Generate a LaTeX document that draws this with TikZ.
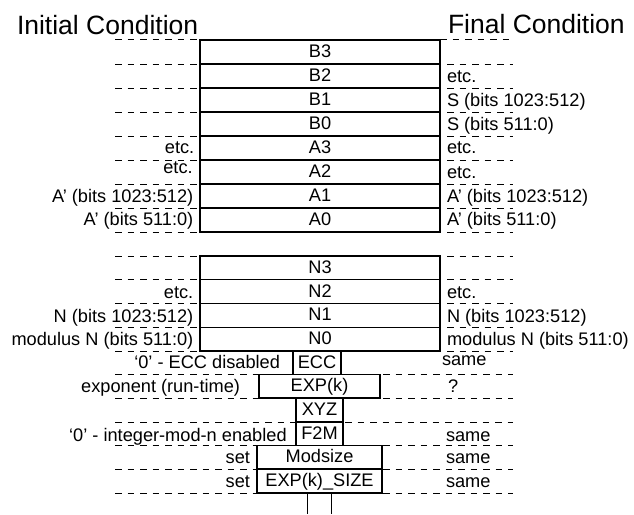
\documentclass[tikz,border=0pt]{standalone}
\usepackage{fontspec}
\setmainfont{Liberation Sans}
\begin{document}
\begin{tikzpicture}[x=1pt,y=-1pt,
  lbl/.style={font=\fontsize{18.2}{20}\selectfont, inner sep=0pt, outer sep=0pt},
  ttl/.style={font=\fontsize{26.5}{30}\selectfont, inner sep=0pt, outer sep=0pt},
  reg/.style={draw, line width=1.1pt, inner sep=0pt, outer sep=0pt,
    font=\fontsize{18.2}{20}\selectfont, text height=12, text depth=1, anchor=north west},
  guide/.style={line width=0.9pt, dash pattern=on 6.5pt off 6pt},
  wire/.style={line width=1.1pt}]
\useasboundingbox (0,0) rectangle (634,514);

% reference x positions for the guide lines
\coordinate (L) at (115,0);
\coordinate (R) at (513,0);
\coordinate (RS) at (447,0);
\coordinate (R2) at (383,0);

% titles
\node[ttl, anchor=base west] (tinit) at (17,34) {Initial Condition};
\node[ttl, anchor=base west] (tfinal) at (448,33) {Final Condition};

% main register rows
\foreach \n [count=\i from 0] in {B3,B2,B1,B0,A3,A2,A1,A0} {
  \node[reg, minimum width=240, minimum height=24] (\n) at (200,40+24*\i) {\n};
}
\foreach \n [count=\i from 0] in {N3,N2,N1,N0} {
  \node[reg, minimum width=240, minimum height=23.75] (\n) at (200,256+23.75*\i) {\n};
}

% lower registers
\node[reg, minimum width=48, minimum height=23.5] (ECC) at (293,351) {ECC};
\node[reg, minimum width=121, minimum height=23.5] (EXP) at (259,374.5) {EXP(k)};
\node[reg, minimum width=47, minimum height=24] (XYZ) at (296,398) {XYZ};
\node[reg, minimum width=47, minimum height=23.5] (F2M) at (296,422) {F2M};
\node[reg, minimum width=125, minimum height=23.5] (MOD) at (257,445.5) {Modsize};
\node[reg, minimum width=125, minimum height=24] (ES) at (257,469) {EXP(k)\_SIZE};

% bottom lines
\coordinate (b1) at (307.7,514);
\coordinate (b2) at (331.7,514);
\draw[wire] (b1 |- ES.south) -- (b1);
\draw[wire] (b2 |- ES.south) -- (b2);

% guide lines
\draw[guide] (115,39.2) -- (513,39.2);
\foreach \n in {B2,B1,B0,A3,A2,A1,A0,N3,N2,N1,N0} {
  \draw[guide] (L |- \n.north west) -- (\n.north west);
  \draw[guide] (RS |- \n.north east) -- (R |- \n.north east);
}
\foreach \n in {A0,N0} {
  \draw[guide] (L |- \n.south west) -- (\n.south west);
  \draw[guide] (RS |- \n.south east) -- (R |- \n.south east);
}
\draw[guide] (L |- EXP.north west) -- (EXP.north west);
\draw[guide] (R2 |- EXP.north east) -- (R |- EXP.north east);
\draw[guide] (L |- EXP.south west) -- (EXP.south west);
\draw[guide] (R2 |- EXP.south east) -- (R |- EXP.south east);
\draw[guide] (L |- F2M.north west) -- (F2M.north west);
\draw[guide] ([xshift=2pt]F2M.north east) -- (R |- F2M.north east);
\foreach \n in {MOD,ES} {
  \draw[guide] (L |- \n.north west) -- (\n.north west);
  \draw[guide] (R2 |- \n.north east) -- (R |- \n.north east);
}
\draw[guide] (L |- ES.south west) -- (ES.south west);
\draw[guide] (R2 |- ES.south east) -- (R |- ES.south east);

% left labels
\node[lbl, anchor=base east] (la3) at (194.3,153.5) {etc.};
\node[lbl, anchor=base east] (la2) at (192.7,173) {etc.};
\node[lbl, anchor=base east] (la1) at (193.3,202) {A’ (bits 1023:512)};
\node[lbl, anchor=base east] (la0) at (193.3,225.5) {A’ (bits 511:0)};
\node[lbl, anchor=base east] (ln2) at (193.3,298.5) {etc.};
\node[lbl, anchor=base east] (ln1) at (193.3,322) {N (bits 1023:512)};
\node[lbl, anchor=base east] (ln0) at (193.3,345) {modulus N (bits 511:0)};
\node[lbl, anchor=base east] (lecc) at (280,368.5) {‘0’ - ECC disabled};
\node[lbl, anchor=base east] (lexp) at (240,392) {exponent (run-time)};
\node[lbl, anchor=base east] (lf2m) at (286.7,441) {‘0’ - integer-mod-n enabled};
\node[lbl, anchor=base east] (lmod) at (250,463.3) {set};
\node[lbl, anchor=base east] (les) at (250,487) {set};

% right labels
\node[lbl, anchor=base west] (rb2) at (447,82) {etc.};
\node[lbl, anchor=base west] (rb1) at (447,106) {S (bits 1023:512)};
\node[lbl, anchor=base west] (rb0) at (447,130) {S (bits 511:0)};
\node[lbl, anchor=base west] (ra3) at (447,153.5) {etc.};
\node[lbl, anchor=base west] (ra2) at (447,178) {etc.};
\node[lbl, anchor=base west] (ra1) at (447,202) {A’ (bits 1023:512)};
\node[lbl, anchor=base west] (ra0) at (447,225.5) {A’ (bits 511:0)};
\node[lbl, anchor=base west] (rn2) at (447,298.5) {etc.};
\node[lbl, anchor=base west] (rn1) at (447,322) {N (bits 1023:512)};
\node[lbl, anchor=base west] (rn0) at (447,345) {modulus N (bits 511:0)};
\node[lbl, anchor=base west] (recc) at (442,365) {same};
\node[lbl, anchor=base west] (rexp) at (448,392) {?};
\node[lbl, anchor=base west] (rf2m) at (446,441.5) {same};
\node[lbl, anchor=base west] (rmod) at (446,463.3) {same};
\node[lbl, anchor=base west] (res) at (446,487.3) {same};
\end{tikzpicture}
\end{document}
